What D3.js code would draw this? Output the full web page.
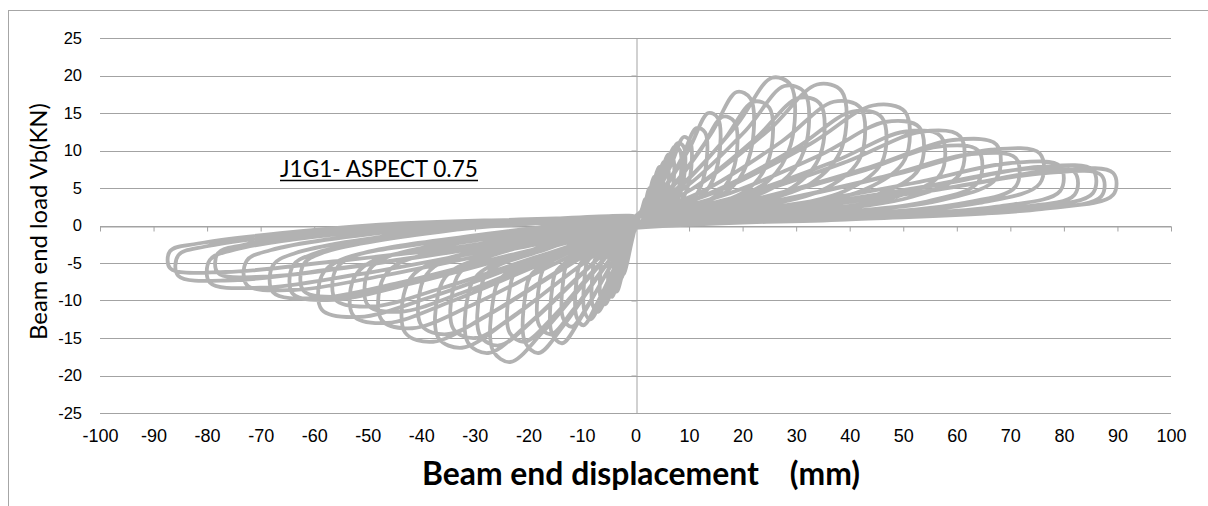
<!DOCTYPE html>
<html>
<head>
<meta charset="utf-8">
<script src="https://cdn.jsdelivr.net/npm/d3@7"></script>
<style>
  html, body { margin: 0; padding: 0; background: #fff; }
  svg { display: block; }
</style>
</head>
<body>
<svg id="chart" width="1208" height="506"></svg>
<script>
// Axis tick values
const xTicks = [-100, -90, -80, -70, -60, -50, -40, -30, -20, -10, 0, 10, 20, 30, 40, 50, 60, 70, 80, 90, 100];
const yTicks = [-25, -20, -15, -10, -5, 0, 5, 10, 15, 20, 25];

// Hysteresis record: [displacement (mm), load (kN)], one array per loading cycle
const start = [[0, 0]];
const cycle01 = [[0.6,1],[1.3,2.4],[1.8,3.5],[2,3.3],[2,1.9],[1.7,1.1],[0.9,0.4],[0,-0.3],[-0.45,-1.4],[-1,-3.1],[-1.3,-4],[-1.5,-3.7],[-1.5,-2.2],[-1.4,-1.5],[-0.8,-0.4],[-0.4,0.5],[0,1.2]];
const cycle02 = [[1.2,1.8],[2.6,4.4],[3.5,6.5],[4,6.2],[4,3.6],[3.4,2],[1.8,0.8],[0,-0.3],[-0.9,-2.5],[-2,-5.5],[-2.6,-7],[-3,-6.4],[-3,-3.9],[-2.8,-2.7],[-1.65,-1],[-0.75,0.2],[0,1.2]];
const cycle03 = [[0.9,1.4],[1.95,3.4],[2.6,5],[3,4.75],[3,2.75],[2.55,1.5],[1.35,0.6],[0,-0.3],[-0.75,-2.3],[-1.6,-5.1],[-2.2,-6.5],[-2.5,-6],[-2.5,-3.6],[-2.35,-2.5],[-1.4,-0.93],[-0.6,0.25],[0,1.2]];
const cycle04 = [[1.8,2.4],[3.9,5.8],[5.3,8.5],[6,8.1],[6,4.7],[5.1,2.6],[2.7,1],[0,-0.3],[-1.5,-3.3],[-3.3,-7.4],[-4.4,-9.5],[-5,-8.7],[-5,-5.2],[-4.7,-3.6],[-2.75,-1.6],[-1.25,-0.05],[0,1.2]];
const cycle05 = [[1.5,2.2],[3.25,5.3],[4.4,7.8],[5,7.4],[5,4.3],[4.25,2.3],[2.25,0.9],[0,-0.3],[-1.2,-3.1],[-2.6,-6.9],[-3.5,-8.8],[-4,-8.1],[-4,-4.8],[-3.75,-3.3],[-2.2,-1.4],[-1,0],[0,1.2]];
const cycle06 = [[2.5,2.9],[5.4,7.1],[7.3,10.5],[8.3,10],[8.3,5.8],[7.1,3.2],[3.7,1.3],[0,-0.3],[-2.4,-4],[-5.2,-9],[-7,-11.5],[-8,-10.6],[-8,-6.3],[-7.5,-4.4],[-4.4,-2],[-2,-0.25],[0,1.2]];
const cycle07 = [[2.1,2.7],[4.55,6.5],[6.2,9.5],[7,9],[7,5.2],[6,2.9],[3.15,1.1],[0,-0.3],[-2,-3.7],[-4.2,-8.2],[-5.7,-10.5],[-6.5,-9.7],[-6.5,-5.8],[-6.1,-4],[-3.6,-1.8],[-1.6,-0.15],[0,1.2]];
const cycle08 = [[3.1,3.3],[6.6,8],[9,11.8],[10.2,11.2],[10.2,6.5],[8.7,3.5],[4.6,1.4],[0,-0.3],[-3.3,-4.7],[-7.2,-10.4],[-9.7,-13.3],[-11,-12.2],[-11,-7.3],[-10.3,-5.1],[-6.1,-2.4],[-2.75,-0.4],[0,1.2]];
const cycle09 = [[2.7,3.1],[5.85,7.5],[7.9,11],[9,10.5],[9,6.1],[7.65,3.3],[4.05,1.3],[0,-0.3],[-2.85,-4.4],[-6.2,-9.75],[-8.4,-12.5],[-9.5,-11.5],[-9.5,-6.9],[-8.9,-4.75],[-5.2,-2.25],[-2.4,-0.35],[0,1.2]];
const cycle10 = [[3.9,3.6],[8.5,8.8],[11.4,13],[13,12.4],[13,7.2],[11.1,3.9],[5.9,1.6],[0,-0.3],[-4.1,-4.7],[-8.8,-10.5],[-11.9,-13.5],[-13.5,-12.4],[-13.5,-7.4],[-12.7,-5.1],[-7.4,-2.5],[-3.4,-0.45],[0,1.2]];
const cycle11 = [[4.6,4.2],[10,10.2],[13.6,15],[15.4,14.3],[15.4,8.3],[13.1,4.5],[6.9,1.8],[0,-0.3],[-4.7,-5.5],[-10.1,-12.2],[-13.7,-15.7],[-15.6,-14.4],[-15.6,-8.6],[-14.7,-6],[-8.6,-3],[-3.9,-0.7],[0,1.2]];
const cycle12 = [[5.6,4.1],[12,9.9],[16.3,14.5],[18.5,13.8],[18.5,8],[15.7,4.4],[8.3,1.7],[0,-0.3],[-5.4,-5.1],[-11.7,-11.3],[-15.8,-14.5],[-18,-13.3],[-18,-8],[-16.9,-5.5],[-9.9,-2.7],[-4.5,-0.55],[0,1.2]];
const cycle13 = [[6.5,5],[14,12.1],[18.9,17.8],[21.5,16.9],[21.5,9.8],[18.3,5.3],[9.7,2.1],[0,-0.3],[-6.2,-6],[-13.4,-13.3],[-18.1,-17],[-20.6,-15.6],[-20.6,-9.4],[-19.4,-6.5],[-11.3,-3.2],[-5.2,-0.8],[0,1.2]];
const cycle14 = [[7.5,4.6],[16.3,11.2],[22,16.5],[25,15.7],[25,9.1],[21.3,5],[11.3,2],[0,-0.3],[-7.1,-5.4],[-15.3,-12.1],[-20.7,-15.5],[-23.5,-14.3],[-23.5,-8.5],[-22.1,-5.9],[-12.9,-2.9],[-5.9,-0.65],[0,1.2]];
const cycle15 = [[8.7,5.5],[18.9,13.4],[25.5,19.7],[29,18.7],[29,10.8],[24.7,5.9],[13.1,2.4],[0,-0.3],[-8,-6.4],[-17.3,-14.2],[-23.4,-18.2],[-26.6,-16.7],[-26.6,-10],[-25,-6.9],[-14.6,-3.5],[-6.65,-0.9],[0,1.2]];
const cycle16 = [[9.5,5.2],[20.5,12.6],[27.8,18.6],[31.6,17.7],[31.6,10.2],[26.9,5.6],[14.2,2.2],[0,-0.3],[-8.7,-5.6],[-18.9,-12.5],[-25.5,-16],[-29,-14.7],[-29,-8.8],[-27.3,-6.1],[-16,-3],[-7.25,-0.7],[0,1.2]];
const cycle17 = [[10.4,4.8],[22.4,11.6],[30.4,17],[34.5,16.2],[34.5,9.4],[29.3,5.1],[15.5,2],[0,-0.3],[-9.4,-6],[-20.3,-13.3],[-27.5,-17],[-31.3,-15.6],[-31.3,-9.4],[-29.4,-6.5],[-17.2,-2.7],[-7.8,-0.55],[0,1.2]];
const cycle18 = [[11.6,5.3],[25,12.8],[33.9,18.8],[38.5,17.9],[38.5,10.3],[32.7,5.6],[17.3,2.3],[0,-0.3],[-10.2,-5.3],[-22.1,-11.7],[-29.9,-15],[-34,-13.8],[-34,-8.3],[-32,-5.7],[-18.7,-2.3],[-8.5,-0.35],[0,1.2]];
const cycle19 = [[12.6,4.6],[27.3,11.2],[37,16.5],[42,15.7],[42,9.1],[35.7,5],[18.9,2],[0,-0.3],[-11,-5.7],[-23.9,-12.7],[-32.4,-16.3],[-36.8,-15],[-36.8,-9],[-34.6,-6.2],[-20.2,-2.6],[-9.2,-0.5],[0,1.2]];
const cycle20 = [[13.8,4.3],[29.9,10.3],[40.5,15.2],[46,14.4],[46,8.4],[39.1,4.6],[20.7,1.8],[0,-0.3],[-12,-5.1],[-26,-11.3],[-35.2,-14.5],[-40,-13.3],[-40,-8],[-37.6,-5.5],[-22,-2.2],[-10,-0.3],[0,1.2]];
const cycle21 = [[15.1,4.5],[32.7,10.9],[44.3,16],[50.3,15.2],[50.3,8.8],[42.8,4.8],[22.6,1.9],[0,-0.3],[-12.9,-5.4],[-28,-12.1],[-37.8,-15.5],[-43,-14.3],[-43,-8.5],[-40.4,-5.9],[-23.7,-2.4],[-10.75,-0.4],[0,1.2]];
const cycle22 = [[15.9,3.9],[34.5,9.4],[46.6,13.8],[53,13.1],[53,7.6],[45,4.1],[23.9,1.7],[0,-0.3],[-14.2,-4.8],[-30.8,-10.7],[-41.7,-13.7],[-47.4,-12.6],[-47.4,-7.5],[-44.6,-5.2],[-26.1,-2],[-11.9,-0.2],[0,1.2]];
const cycle23 = [[17.1,3.5],[37,8.5],[50.2,12.5],[57,11.9],[57,6.9],[48.5,3.8],[25.7,1.5],[0,-0.3],[-15,-4],[-32.5,-9],[-44,-11.5],[-50,-10.6],[-50,-6.3],[-47,-4.4],[-27.5,-1.5],[-12.5,0],[0,1.2]];
const cycle24 = [[18.2,3.5],[39.4,8.5],[53.3,12.5],[60.6,11.9],[60.6,6.9],[51.5,3.8],[27.3,1.5],[0,-0.3],[-15.8,-4.6],[-34.3,-10.1],[-46.4,-13],[-52.7,-12],[-52.7,-7.2],[-49.5,-4.9],[-29,-1.9],[-13.2,-0.15],[0,1.2]];
const cycle25 = [[19.2,2.9],[41.6,7.1],[56.3,10.5],[64,10],[64,5.8],[54.4,3.2],[28.8,1.3],[0,-0.3],[-16.8,-3.8],[-36.4,-8.4],[-49.3,-10.8],[-56,-9.9],[-56,-5.9],[-52.6,-4.1],[-30.8,-1.4],[-14,0.07],[0,1.2]];
const cycle26 = [[20.2,3.2],[43.8,7.8],[59.3,11.4],[67.4,10.8],[67.4,6.3],[57.3,3.4],[30.3,1.4],[0,-0.3],[-17.6,-4.3],[-38.1,-9.5],[-51.6,-12.2],[-58.6,-11.2],[-58.6,-6.7],[-55.1,-4.6],[-32.2,-1.7],[-14.7,-0.07],[0,1.2]];
const cycle27 = [[21.3,2.7],[46.2,6.5],[62.5,9.5],[71,9],[71,5.2],[60.4,2.9],[32,1.1],[0,-0.3],[-18.6,-3.3],[-40.3,-7.4],[-54.6,-9.5],[-62,-8.7],[-62,-5.2],[-58.3,-3.6],[-34.1,-0.6],[-15.5,0.45],[0,1.2]];
const cycle28 = [[22.7,2.8],[49.1,6.9],[66.4,10.1],[75.5,9.6],[75.5,5.6],[64.2,3],[34,1.2],[0,-0.3],[-19.2,-3.5],[-41.6,-7.7],[-56.3,-9.9],[-64,-9.1],[-64,-5.4],[-60.2,-3.8],[-35.2,-0.7],[-16,0.4],[0,1.2]];
const cycle29 = [[23.8,2.3],[51.5,5.6],[69.8,8.3],[79.3,7.9],[79.3,4.6],[67.4,2.5],[35.7,1],[0,-0.3],[-20.3,-3.4],[-44,-7.6],[-59.6,-9.7],[-67.7,-8.9],[-67.7,-5.3],[-63.6,-3.7],[-37.2,-0.6],[-16.9,0.4],[0,1.2]];
const cycle30 = [[24.6,2.1],[53.3,5.1],[72.2,7.5],[82,7.1],[82,4.1],[69.7,2.3],[36.9,0.9],[0,-0.3],[-21.8,-3],[-47.2,-6.7],[-63.9,-8.6],[-72.6,-7.9],[-72.6,-4.7],[-68.2,-3.3],[-39.9,-0.4],[-18.2,0.5],[0,1.2]];
const cycle31 = [[25.6,2.2],[55.5,5.3],[75.2,7.8],[85.4,7.4],[85.4,4.3],[72.6,2.3],[38.4,0.9],[0,-0.3],[-23.4,-2.4],[-50.7,-5.3],[-68.6,-6.8],[-78,-6.3],[-78,-3.7],[-73.3,-2.6],[-42.9,0],[-19.5,0.7],[0,1.2]];
const cycle32 = [[26.1,2],[56.6,4.8],[76.6,7],[87,6.7],[87,3.9],[74,2.1],[39.2,0.8],[0,-0.3],[-23.9,-2.9],[-51.7,-6.5],[-70,-8.3],[-79.5,-7.6],[-79.5,-4.6],[-74.7,-3.2],[-43.7,-0.3],[-19.9,0.6],[0,1.2]];
const cycle33 = [[26.8,2.1],[58,5],[78.5,7.4],[89.2,7],[89.2,4.1],[75.8,2.2],[40.1,0.9],[0,-0.3],[-25.6,-2.6],[-55.5,-5.7],[-75.2,-7.3],[-85.4,-6.7],[-85.4,-4],[-80.3,-2.8],[-47,-0.1],[-21.4,0.7],[0,1.2]];
const cycle34 = [[-26.1,-2.2],[-56.5,-4.8],[-76.5,-6.2],[-86.9,-5.7],[-86.9,-3.4],[-81.7,-2.4],[-47.8,0.1],[-21.7,0.8],[0,1.2]];

const cycles = [start, cycle01, cycle02, cycle03, cycle04, cycle05, cycle06, cycle07, cycle08, cycle09, cycle10,
  cycle11, cycle12, cycle13, cycle14, cycle15, cycle16, cycle17, cycle18, cycle19, cycle20,
  cycle21, cycle22, cycle23, cycle24, cycle25, cycle26, cycle27, cycle28, cycle29, cycle30,
  cycle31, cycle32, cycle33, cycle34];
const record = cycles.flat();

const svg = d3.select('#chart');
const x = d3.scaleLinear().domain([-100, 100]).range([100, 1171]);
const y = d3.scaleLinear().domain([-25, 25]).range([413, 38]);
const gridColor = '#a3a3a3';
const sansFont = '"Liberation Sans", Arial, sans-serif';
const titleFont = 'Lato, "Open Sans", sans-serif';

// Chart frame
svg.append('rect')
  .attr('x', 8.5).attr('y', 10.5).attr('width', 1400).attr('height', 700)
  .attr('fill', 'none').attr('stroke', '#a6a6a6').attr('stroke-width', 1);

// Horizontal gridlines
svg.append('g').selectAll('line').data(yTicks).join('line')
  .attr('x1', x(-100)).attr('x2', x(100))
  .attr('y1', d => Math.round(y(d)) + 0.5).attr('y2', d => Math.round(y(d)) + 0.5)
  .attr('stroke', gridColor).attr('stroke-width', 1);

// Horizontal axis through zero load, ticks hanging below
const xAxisG = svg.append('g')
  .attr('transform', `translate(0,${Math.round(y(0)) + 0.5})`)
  .call(d3.axisBottom(x).tickValues(xTicks).tickSize(5).tickSizeOuter(0).tickFormat(''));
xAxisG.selectAll('path,line').attr('stroke', gridColor);

// Vertical axis through zero displacement
const yAxisG = svg.append('g')
  .attr('transform', `translate(${Math.round(x(0)) + 0.5},0)`)
  .call(d3.axisLeft(y).tickValues(yTicks).tickSize(5).tickSizeOuter(0).tickFormat(''));
yAxisG.selectAll('path,line').attr('stroke', gridColor);

// Displacement tick labels along the bottom of the plot
const xLabels = svg.append('g')
  .attr('transform', `translate(0,${y(-25)})`)
  .call(d3.axisBottom(x).tickValues(xTicks).tickSize(0).tickPadding(16).tickFormat(d => String(d)));
xLabels.select('.domain').remove();
xLabels.selectAll('text').attr('font-family', sansFont).attr('font-size', 18).attr('fill', '#000');

// Load tick labels at the left of the plot
const yLabels = svg.append('g')
  .attr('transform', `translate(${x(-100)},0)`)
  .call(d3.axisLeft(y).tickValues(yTicks).tickSize(0).tickPadding(18).tickFormat(d => String(d)));
yLabels.select('.domain').remove();
yLabels.selectAll('text').attr('font-family', sansFont).attr('font-size', 16.5).attr('fill', '#000');

// Hysteresis curve
const line = d3.line()
  .x(d => x(d[0])).y(d => y(d[1]))
  .curve(d3.curveCatmullRom.alpha(0.5));
svg.append('path')
  .datum(record)
  .attr('d', line)
  .attr('fill', 'none')
  .attr('stroke', '#b2b2b2')
  .attr('stroke-width', 3.8)
  .attr('stroke-linejoin', 'round')
  .attr('stroke-linecap', 'round');

// Scale a text's font size so it spans the given width
function fitWidth(sel, width) {
  const len = sel.node().getComputedTextLength();
  const fs = parseFloat(sel.attr('font-size'));
  sel.attr('font-size', (fs * width / len).toFixed(2));
}

// Specimen label
const label = svg.append('text')
  .attr('x', 280).attr('y', 177)
  .attr('font-family', titleFont).attr('font-size', 24).attr('fill', '#000')
  .text('J1G1- ASPECT 0.75');
fitWidth(label, 198);
svg.append('line')
  .attr('x1', 280).attr('x2', 478).attr('y1', 180.5).attr('y2', 180.5)
  .attr('stroke', '#000').attr('stroke-width', 1.5);

// Axis titles
const yTitle = svg.append('text')
  .attr('transform', 'translate(47,221.5) rotate(-90)')
  .attr('text-anchor', 'middle')
  .attr('font-family', titleFont).attr('font-size', 24).attr('fill', '#000')
  .text('Beam end load Vb(KN)');
fitWidth(yTitle, 237);

const xTitle = svg.append('text')
  .attr('x', 641).attr('y', 485)
  .attr('text-anchor', 'middle')
  .attr('font-family', titleFont).attr('font-weight', 'bold').attr('font-size', 29).attr('fill', '#000')
  .style('white-space', 'pre')
  .text('Beam end displacement    (mm)');
fitWidth(xTitle, 438);
</script>
</body>
</html>
